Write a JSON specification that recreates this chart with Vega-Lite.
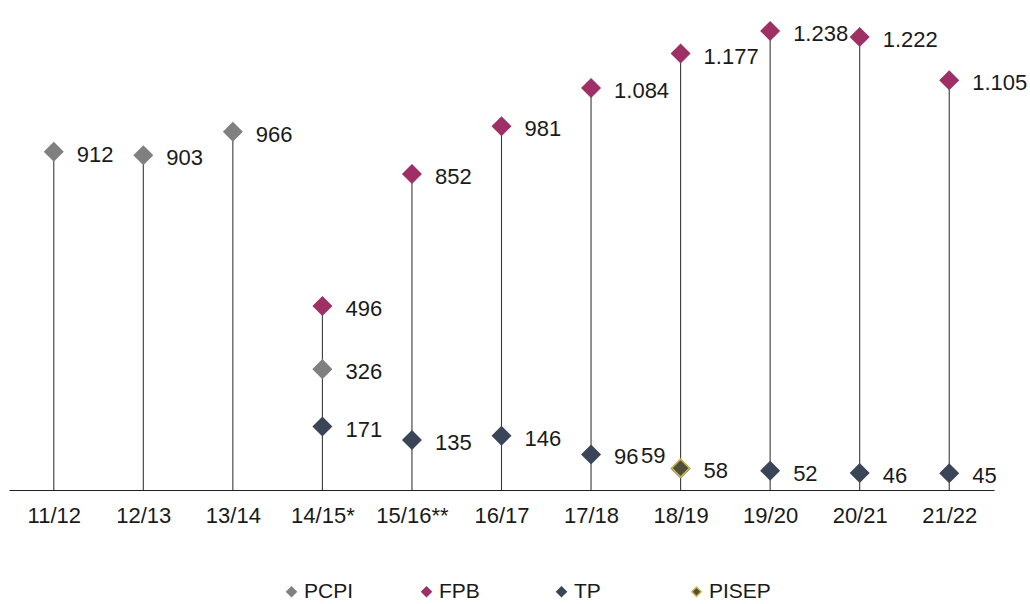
{
  "$schema": "https://vega.github.io/schema/vega-lite/v6.json",
  "width": 985,
  "height": 482,
  "padding": {"left": 9, "top": 8, "right": 0, "bottom": 0},
  "background": "white",
  "config": {
    "locale": {"number": {"decimal": ",", "thousands": ".", "grouping": [3], "currency": ["", " €"]}},
    "view": {"stroke": null},
    "font": "Liberation Sans"
  },
  "data": {
    "values": [
      {"year": "11/12", "series": "PCPI", "value": 912},
      {"year": "12/13", "series": "PCPI", "value": 903},
      {"year": "13/14", "series": "PCPI", "value": 966},
      {"year": "14/15*", "series": "FPB", "value": 496},
      {"year": "14/15*", "series": "PCPI", "value": 326},
      {"year": "14/15*", "series": "TP", "value": 171},
      {"year": "15/16**", "series": "FPB", "value": 852},
      {"year": "15/16**", "series": "TP", "value": 135},
      {"year": "16/17", "series": "FPB", "value": 981},
      {"year": "16/17", "series": "TP", "value": 146},
      {"year": "17/18", "series": "FPB", "value": 1084},
      {"year": "17/18", "series": "TP", "value": 96},
      {"year": "18/19", "series": "FPB", "value": 1177},
      {"year": "18/19", "series": "TP", "value": 58},
      {"year": "19/20", "series": "FPB", "value": 1238},
      {"year": "19/20", "series": "TP", "value": 52},
      {"year": "20/21", "series": "FPB", "value": 1222},
      {"year": "20/21", "series": "TP", "value": 46},
      {"year": "21/22", "series": "FPB", "value": 1105},
      {"year": "21/22", "series": "TP", "value": 45},
      {"year": "18/19", "series": "PISEP", "value": 59}
    ]
  },
  "encoding": {
    "x": {
      "field": "year", "type": "nominal", "sort": null,
      "scale": {"type": "point", "padding": 0.5},
      "axis": {
        "title": null, "labelAngle": 0, "ticks": false, "grid": false,
        "domainColor": "#222222", "domainWidth": 1.2,
        "labelFontSize": 22, "labelColor": "#1a1a1a", "labelPadding": 15,
        "labelFont": "Liberation Sans"
      }
    }
  },
  "layer": [
    {
      "mark": {"type": "rule", "color": "#3a3a3a", "strokeWidth": 1.1},
      "encoding": {
        "y": {"aggregate": "max", "field": "value", "type": "quantitative",
              "scale": {"domain": [0, 1300]}, "axis": null},
        "y2": {"datum": 0}
      }
    },
    {
      "mark": {"type": "point", "shape": "diamond", "filled": true, "size": 320, "strokeWidth": 1.5, "opacity": 1},
      "encoding": {
        "y": {"field": "value", "type": "quantitative"},
        "fill": {
          "field": "series", "type": "nominal",
          "scale": {"domain": ["PCPI", "FPB", "TP", "PISEP"], "range": ["#808080", "#9e3066", "#3b4558", "#4f4f3c"]},
          "legend": {
            "title": null, "orient": "none", "direction": "horizontal",
            "legendX": 272, "legendY": 573,
            "symbolType": "diamond", "symbolSize": 90,
            "labelFontSize": 21, "labelColor": "#1a1a1a", "labelFont": "Liberation Sans",
            "gridAlign": "all", "columnPadding": 50, "labelOffset": 2
          }
        },
        "stroke": {
          "field": "series", "type": "nominal",
          "scale": {"domain": ["PCPI", "FPB", "TP", "PISEP"], "range": ["#808080", "#9e3066", "#3b4558", "#cdb84a"]}
        }
      }
    },
    {
      "transform": [{"filter": "datum.series !== 'PISEP'"}],
      "mark": {"type": "text", "align": "left", "baseline": "middle", "dx": 23, "dy": 3, "fontSize": 22, "color": "#1a1a1a", "font": "Liberation Sans"},
      "encoding": {
        "y": {"field": "value", "type": "quantitative"},
        "text": {"field": "value", "type": "quantitative", "format": ",d"}
      }
    },
    {
      "transform": [{"filter": "datum.series === 'PISEP'"}],
      "mark": {"type": "text", "align": "right", "baseline": "middle", "dx": -15, "dy": -12, "fontSize": 22, "color": "#1a1a1a", "font": "Liberation Sans"},
      "encoding": {
        "y": {"field": "value", "type": "quantitative"},
        "text": {"field": "value", "type": "quantitative", "format": ",d"}
      }
    }
  ]
}
